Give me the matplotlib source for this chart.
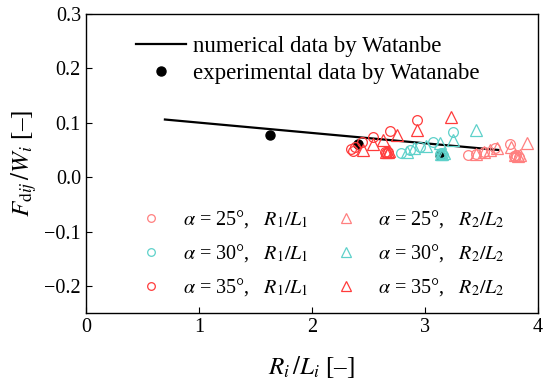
import matplotlib
matplotlib.use("Agg")
import matplotlib.pyplot as plt
from matplotlib.lines import Line2D

plt.rcParams["font.family"] = "Liberation Serif"
plt.rcParams["mathtext.fontset"] = "stix"

# numerical line (Watanabe)
num_x = [0.70, 3.65]
num_y = [0.106, 0.050]

# experimental points (Watanabe)
exp_x = [1.63, 2.41, 3.13]
exp_y = [0.077, 0.061, 0.040]

# alpha = 25 deg
a25_r1_x = [3.38, 3.45, 3.52, 3.62, 3.75, 3.79, 3.81, 3.83, 3.80]
a25_r1_y = [0.040, 0.043, 0.046, 0.054, 0.061, 0.039, 0.040, 0.038, 0.037]
a25_r2_x = [3.45, 3.52, 3.58, 3.64, 3.76, 3.90, 3.80, 3.82, 3.84]
a25_r2_y = [0.042, 0.046, 0.050, 0.054, 0.056, 0.062, 0.040, 0.039, 0.041]

# alpha = 30 deg
a30_r1_x = [2.79, 2.87, 2.96, 3.07, 3.25, 3.13, 3.15, 3.16, 3.14]
a30_r1_y = [0.045, 0.050, 0.056, 0.065, 0.083, 0.042, 0.043, 0.041, 0.044]
a30_r2_x = [2.84, 2.90, 3.01, 3.13, 3.25, 3.45, 3.15, 3.17, 3.14]
a30_r2_y = [0.046, 0.053, 0.057, 0.062, 0.069, 0.086, 0.043, 0.044, 0.042]

# alpha = 35 deg
a35_r1_x = [2.36, 2.38, 2.44, 2.54, 2.69, 2.93, 2.65, 2.67, 2.66, 2.35]
a35_r1_y = [0.048, 0.056, 0.065, 0.074, 0.084, 0.106, 0.046, 0.047, 0.045, 0.052]
a35_r2_x = [2.45, 2.54, 2.63, 2.75, 2.93, 3.23, 2.66, 2.68, 2.67]
a35_r2_y = [0.050, 0.061, 0.068, 0.077, 0.086, 0.110, 0.047, 0.048, 0.046]

c25 = "#FF7F7F"
c30 = "#5ED1CA"
c35 = "#FF3B3B"
DASH = "\u2013"

fig = plt.figure(figsize=(5.5, 3.89), dpi=100)
ax = fig.add_axes([0.156, 0.195, 0.822, 0.769])

ax.plot(num_x, num_y, color="black", lw=1.6)
ax.plot(exp_x, exp_y, "o", color="black", ms=6.5)

series = [
    (a25_r1_x, a25_r1_y, "o", c25, 7),
    (a30_r1_x, a30_r1_y, "o", c30, 7),
    (a35_r1_x, a35_r1_y, "o", c35, 7),
    (a25_r2_x, a25_r2_y, "^", c25, 8.5),
    (a30_r2_x, a30_r2_y, "^", c30, 8.5),
    (a35_r2_x, a35_r2_y, "^", c35, 8.5),
]
for x, y, m, c, ms in series:
    ax.plot(x, y, m, mfc="none", mec=c, ms=ms, mew=0.9, ls="none")

ax.set_xlim(0, 4)
ax.set_ylim(-0.25, 0.3)
ax.set_xticks([0, 1, 2, 3, 4])
ax.set_yticks([-0.2, -0.1, 0.0, 0.1, 0.2, 0.3])
ax.set_yticklabels(["\u22120.2", "\u22120.1", "0.0", "0.1", "0.2", "0.3"])
ax.tick_params(direction="in", length=4, labelsize=14.5, top=False, right=False)
for s in ax.spines.values():
    s.set_linewidth(1.0)

ax.set_xlabel(r"$R_i\,/L_i$ [" + DASH + "]", fontsize=18, labelpad=12)
ax.set_ylabel(r"$F_{\mathrm{d}ij}\,/W_i$ [" + DASH + "]", fontsize=18, labelpad=4)

h1 = [Line2D([], [], color="black", lw=1.6),
      Line2D([], [], marker="o", color="black", ls="none", ms=6.5)]
leg1 = ax.legend(h1, ["numerical data by Watanbe", "experimental data by Watanabe"],
                 loc="upper left", bbox_to_anchor=(0.065, 0.995), frameon=False,
                 fontsize=16.5, handlelength=2.2, handletextpad=0.3, labelspacing=0.25)
ax.add_artist(leg1)

h2 = []
l2 = []
for m, r, ms in [("o", r"$R_1/L_1$", 5.5), ("^", r"$R_2/L_2$", 6.5)]:
    for a, c in [(25, c25), (30, c30), (35, c35)]:
        h2.append(Line2D([], [], marker=m, mfc="none", mec=c, ls="none", ms=ms, mew=0.9))
        l2.append(r"$\alpha$ = " + f"{a}°,   " + r)
ax.legend(h2, l2, ncol=2, loc="lower left", bbox_to_anchor=(0.06, -0.01), frameon=False,
          fontsize=14.5, handlelength=2.0, handletextpad=0.6, columnspacing=0.85,
          labelspacing=0.6)

fig.savefig("out.png", dpi=100)
